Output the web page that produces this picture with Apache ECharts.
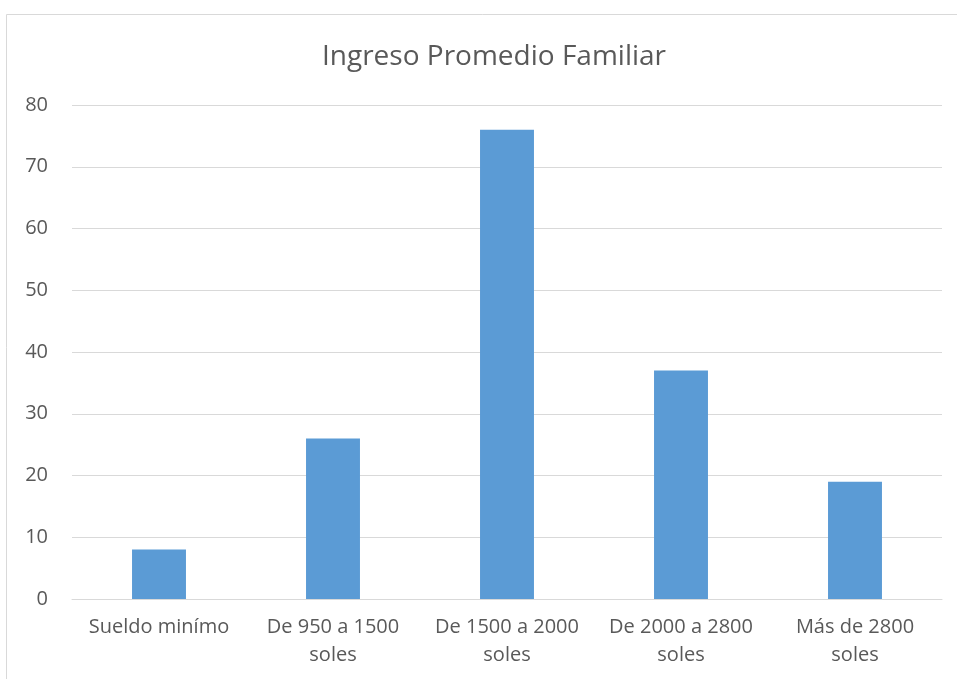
<!DOCTYPE html>
<html>
<head>
<meta charset="utf-8">
<script src="https://cdn.jsdelivr.net/npm/echarts@6/dist/echarts.min.js"></script>
<style>html,body{margin:0;padding:0;background:#fff}#c{width:957px;height:679px}</style>
</head>
<body>
<div id="c"></div>
<script>
const titleText = 'Ingreso Promedio Familiar';
const categories = ['Sueldo minímo', 'De 950 a 1500\nsoles', 'De 1500 a 2000\nsoles', 'De 2000 a 2800\nsoles', 'Más de 2800\nsoles'];
const values = [8, 26, 76, 37, 19];
const yTicks = { min: 0, max: 80, interval: 10 };

const chart = echarts.init(document.getElementById('c'), null, { renderer: 'canvas' });
const font = 'Open Sans, Noto Sans, sans-serif';
chart.setOption({
  animation: false,
  graphic: [{
    type: 'rect', left: 4, top: 12, silent: true,
    shape: { width: 1000, height: 700 },
    style: { fill: 'none', stroke: '#d9d9d9', lineWidth: 1 }
  }],
  title: {
    text: titleText, left: 489, top: 38, textAlign: 'center',
    textStyle: { fontFamily: font, fontSize: 28, fontWeight: 'normal', color: '#595959' }
  },
  grid: { left: 72, right: 15, top: 105, bottom: 80, containLabel: false },
  xAxis: {
    type: 'category', data: categories,
    axisLine: { lineStyle: { color: '#d9d9d9', width: 1 } },
    axisTick: { show: false },
    axisLabel: { fontFamily: font, fontSize: 20, color: '#595959', margin: 14, lineHeight: 28, interval: 0 }
  },
  yAxis: {
    type: 'value', min: yTicks.min, max: yTicks.max, interval: yTicks.interval,
    axisLine: { show: false }, axisTick: { show: false },
    splitLine: { lineStyle: { color: '#d9d9d9', width: 1 } },
    axisLabel: { fontFamily: font, fontSize: 20, color: '#595959', margin: 24 }
  },
  series: [{
    type: 'bar', data: values, barWidth: '31%',
    itemStyle: { color: '#5b9bd5' }
  }]
});
</script>
</body>
</html>
